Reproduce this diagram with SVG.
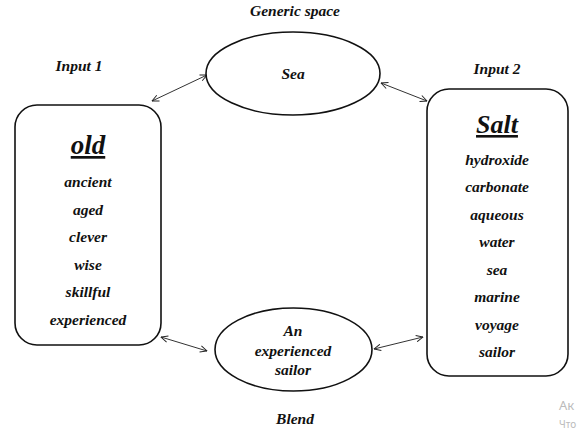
<svg xmlns="http://www.w3.org/2000/svg" width="580" height="434" viewBox="0 0 580 434" font-family="Liberation Serif">
<style>
.t{font-weight:700;font-style:italic;fill:#111;text-anchor:middle}
.lab{font-size:15.5px}
.w{font-size:15.5px}
.big{text-decoration:underline}
.shape{fill:#fff;stroke:#111;stroke-width:1.6}
.con{stroke:#333;stroke-width:1;fill:none;marker-start:url(#ah);marker-end:url(#ah)}
.wm{fill:#bbb}
</style>
<defs>
<marker id="ah" viewBox="0 0 10 10" refX="9.5" refY="5" markerWidth="8" markerHeight="8" markerUnits="userSpaceOnUse" orient="auto-start-reverse">
<path d="M1,1 L9.5,5 L1,9" fill="none" stroke="#222" stroke-width="1.2"/>
</marker>
</defs>
<rect width="580" height="434" fill="#fff"/>
<text class="t lab" x="295" y="16">Generic space</text>
<text class="t lab" x="79" y="71">Input 1</text>
<text class="t lab" x="497" y="74">Input 2</text>
<text class="t lab" x="295" y="424">Blend</text>
<g id="connectors">
<line class="con" x1="152" y1="101" x2="207" y2="75"/>
<line class="con" x1="381" y1="83" x2="427" y2="101"/>
<line class="con" x1="161" y1="337" x2="207" y2="351"/>
<line class="con" x1="374" y1="349" x2="423" y2="337"/>
</g>
<g id="generic">
<ellipse class="shape" cx="293" cy="73.5" rx="87" ry="41.5"/>
<text class="t w" x="293" y="79">Sea</text>
</g>
<g id="input1">
<rect class="shape" x="15" y="105" width="146" height="240" rx="22"/>
<text class="t big" x="88" y="154" font-size="27">old</text>
<text class="t w" x="88" y="187">ancient</text>
<text class="t w" x="88" y="215">aged</text>
<text class="t w" x="88" y="242">clever</text>
<text class="t w" x="88" y="270">wise</text>
<text class="t w" x="88" y="297">skillful</text>
<text class="t w" x="88" y="325">experienced</text>
</g>
<g id="input2">
<rect class="shape" x="427" y="89" width="141" height="287" rx="22"/>
<text class="t big" x="497" y="133" font-size="26">Salt</text>
<text class="t w" x="497" y="165">hydroxide</text>
<text class="t w" x="497" y="192">carbonate</text>
<text class="t w" x="497" y="220">aqueous</text>
<text class="t w" x="497" y="247">water</text>
<text class="t w" x="497" y="275">sea</text>
<text class="t w" x="497" y="302">marine</text>
<text class="t w" x="497" y="330">voyage</text>
<text class="t w" x="497" y="357">sailor</text>
</g>
<g id="blend">
<ellipse class="shape" cx="293.5" cy="349.5" rx="78.5" ry="41.5"/>
<text class="t w" x="293" y="336">An</text>
<text class="t w" x="293" y="356">experienced</text>
<text class="t w" x="293" y="375">sailor</text>
</g>
<text class="wm" x="559" y="410" font-family="Noto Sans" font-size="13">Ак</text>
<text class="wm" x="559" y="428" font-family="Noto Sans" font-size="10">Что</text>
</svg>
